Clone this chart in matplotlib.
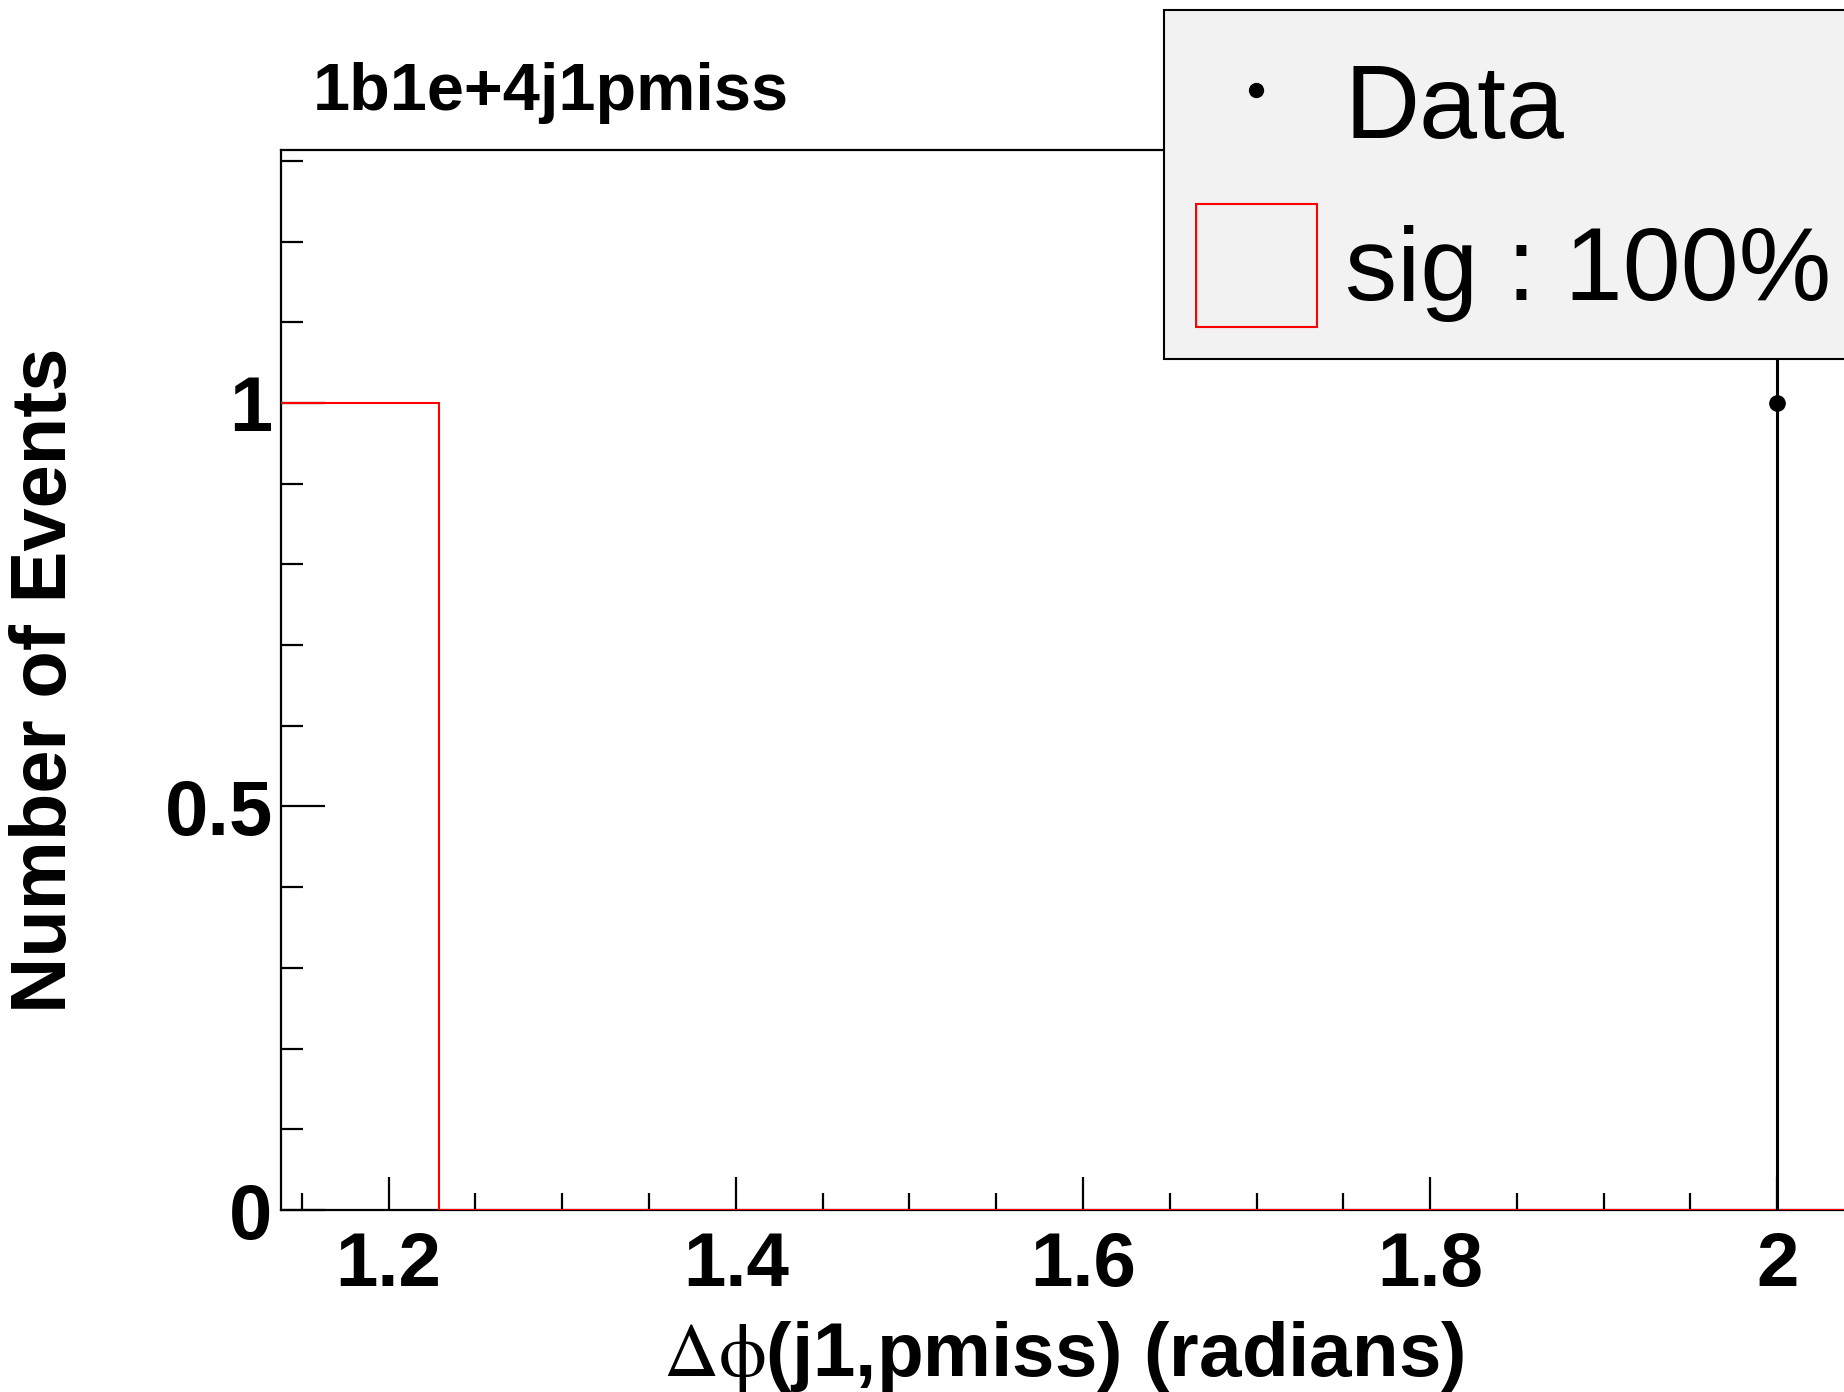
import numpy as np
import matplotlib
matplotlib.use("Agg")
import matplotlib.pyplot as plt
from matplotlib.ticker import MultipleLocator, FuncFormatter
from matplotlib.lines import Line2D
from matplotlib.patches import Patch

plt.rcParams['font.family'] = ['Liberation Sans', 'DejaVu Sans']
plt.rcParams['mathtext.fontset'] = 'stix'

# histogramme du signal (bords des bins et contenus)
sig_edges = np.array([1.129, 1.229, 2.1])
sig_counts = np.array([1, 0])

# point de données
data_x = np.array([2.0])
data_y = np.array([1.0])
data_err = np.sqrt(data_y)

titre = "1b1e+4j1pmiss"
xtitre = r"$\Delta\mathrm{\phi}$(j1,pmiss) (radians)"
ytitre = "Number of Events"

W, H = 1844, 1392
fig = plt.figure(figsize=(W / 100, H / 100), dpi=100)
ax = fig.add_axes([281 / W, (H - 1210) / H, 0.85, (1210 - 150) / H])

ax.stairs(sig_counts, sig_edges, color='red', lw=1.5, zorder=3)
ax.errorbar(data_x, data_y, yerr=data_err, fmt='o', color='black',
            ms=11, elinewidth=2.2, capsize=0, zorder=4)

ax.set_xlim(1.138, 2.041)
ax.set_ylim(0, 1.3135)

ax.xaxis.set_major_locator(MultipleLocator(0.2))
ax.xaxis.set_minor_locator(MultipleLocator(0.05))
ax.yaxis.set_major_locator(MultipleLocator(0.5))
ax.yaxis.set_minor_locator(MultipleLocator(0.1))
ax.xaxis.set_major_formatter(FuncFormatter(lambda v, p: "%g" % round(v, 3)))
ax.yaxis.set_major_formatter(FuncFormatter(lambda v, p: "%g" % round(v, 3)))

ax.tick_params(axis='both', which='both', direction='in', top=False, right=False,
               width=1.6, colors='black')
ax.tick_params(axis='x', which='major', length=24, pad=15, labelsize=55)
ax.tick_params(axis='x', which='minor', length=12)
ax.tick_params(axis='y', which='major', length=32, pad=6, labelsize=56)
ax.tick_params(axis='y', which='minor', length=16)
for lab in ax.get_xticklabels() + ax.get_yticklabels():
    lab.set_fontweight('bold')
for s in ax.spines.values():
    s.set_linewidth(1.6)
    s.set_zorder(2)

fig.text(313 / W, 1 - 110 / H, titre, fontsize=48, fontweight='bold', va='baseline')
fig.text(1064 / W, 16 / H, xtitre, fontsize=55, fontweight='bold',
         ha='center', va='baseline')
fig.text(46 / W, 1 - 680 / H, ytitre, fontsize=56, fontweight='bold',
         rotation=90, ha='center', va='center')

handles = [Line2D([], [], marker='o', color='black', ls='none', ms=10),
           Patch(facecolor='none', edgecolor='red', lw=1.5)]
leg = fig.legend(handles, ["Data", "sig : 100%"], loc='upper left',
                 bbox_to_anchor=(1164 / W, 1 - 10 / H), fontsize=75,
                 frameon=True, fancybox=False, framealpha=1,
                 facecolor='#f2f2f2', edgecolor='black',
                 borderpad=0.31, handlelength=1.155, handleheight=1.43,
                 handletextpad=0.27, labelspacing=0.38, borderaxespad=0)
leg.get_frame().set_linewidth(1.5)

fig.savefig("out.png", dpi=100)
